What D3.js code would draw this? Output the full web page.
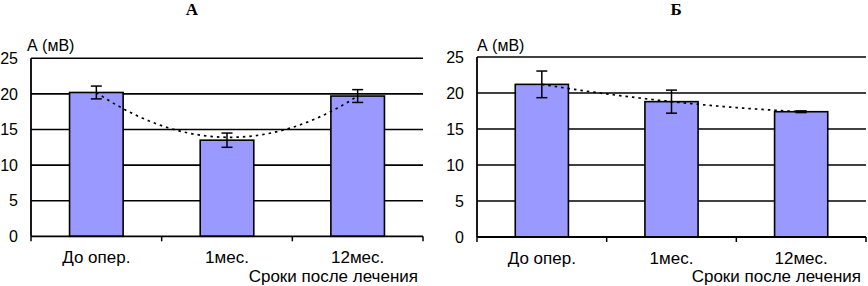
<!DOCTYPE html>
<html><head><meta charset="utf-8">
<script src="https://cdn.jsdelivr.net/npm/d3@7"></script>
<style>body{margin:0;background:#fff}svg{display:block}</style>
</head><body>
<svg id="c" width="868" height="286"></svg>
<script>
const categories = ["До опер.", "1мес.", "12мес."];
const yTicks = [0, 5, 10, 15, 20, 25];
const titles = ["А", "Б"];
const yLabel = "А (мВ)";
const xLabel = "Сроки после лечения";
const valuesA = [20.2, 13.5, 19.7];
const errorsA = [0.9, 1.0, 0.9];
const trendA = [20.2, 13.9, 19.7];
const valuesB = [21.2, 18.8, 17.4];
const errorsB = [1.85, 1.6, 0.12];
const trendB = [21.2, 18.8, 17.4];

const layouts = [
  {left: 31, right: 423, top: 58.3, bottom: 236.3, titleX: 192, labelX: 27},
  {left: 477, right: 866, top: 57, bottom: 237, titleX: 676, labelX: 477}
];
const panels = [
  {values: valuesA, errors: errorsA, trend: trendA},
  {values: valuesB, errors: errorsB, trend: trendB}
];

const svg = d3.select("#c");
svg.append("rect").attr("width", 868).attr("height", 286).attr("fill", "#fff");
const sans = "Arial, 'Liberation Sans', sans-serif";

panels.forEach((p, i) => {
  const L = layouts[i];
  const g = svg.append("g");
  const x = d3.scaleBand().domain(categories).range([L.left, L.right]).padding(0);
  const y = d3.scaleLinear().domain([0, 25]).range([L.bottom, L.top]);
  const bw = x.bandwidth() * 0.41;
  const cx = d => x(d) + x.bandwidth() / 2;

  g.selectAll("line.grid").data(yTicks.filter(t => t > 0)).join("line")
    .attr("x1", L.left).attr("x2", L.right)
    .attr("y1", d => y(d)).attr("y2", d => y(d))
    .attr("stroke", "#000").attr("stroke-width", 1.6);

  const ya = d3.axisLeft(y).tickValues(yTicks).tickSize(0).tickPadding(13);
  const yg = g.append("g").attr("transform", `translate(${L.left},0)`).call(ya);
  yg.select(".domain").remove();
  yg.selectAll("text").attr("font-family", sans).attr("font-size", 16).attr("fill", "#000");

  g.selectAll("rect.bar").data(categories).join("rect")
    .attr("x", d => cx(d) - bw / 2).attr("width", bw)
    .attr("y", (d, j) => y(p.values[j]))
    .attr("height", (d, j) => y(0) - y(p.values[j]))
    .attr("fill", "#9999FF").attr("stroke", "#000").attr("stroke-width", 1.6);

  g.append("line").attr("x1", L.left).attr("x2", L.left).attr("y1", L.top).attr("y2", L.bottom)
    .attr("stroke", "#000").attr("stroke-width", 1.8);
  const xa = d3.axisBottom(x).tickSize(0).tickPadding(15);
  const xg = g.append("g").attr("transform", `translate(0,${L.bottom})`).call(xa);
  xg.select(".domain").attr("stroke", "#000").attr("stroke-width", 1.8).attr("d", `M${L.left},0H${L.right}`);
  xg.selectAll("text").attr("font-family", sans).attr("font-size", 17).attr("fill", "#000").attr("dy", "0.71em");
  const bounds = categories.map(c => x(c)).concat([L.right]);
  g.selectAll("line.xt").data(bounds).join("line")
    .attr("x1", d => d).attr("x2", d => d)
    .attr("y1", L.bottom).attr("y2", L.bottom + 5)
    .attr("stroke", "#000").attr("stroke-width", 1.5);

  const eb = g.selectAll("g.err").data(categories).join("g");
  eb.append("line").attr("x1", d => cx(d)).attr("x2", d => cx(d))
    .attr("y1", (d, j) => y(p.values[j] + p.errors[j]))
    .attr("y2", (d, j) => y(p.values[j] - p.errors[j]))
    .attr("stroke", "#000").attr("stroke-width", 1.5);
  [1, -1].forEach(s => {
    eb.append("line").attr("x1", d => cx(d) - 5.5).attr("x2", d => cx(d) + 5.5)
      .attr("y1", (d, j) => y(p.values[j] + s * p.errors[j]))
      .attr("y2", (d, j) => y(p.values[j] + s * p.errors[j]))
      .attr("stroke", "#000").attr("stroke-width", 1.5);
  });

  const t = p.trend;
  const poly = u => t[0] * (u - 1) * (u - 2) / 2 - t[1] * u * (u - 2) + t[2] * u * (u - 1) / 2;
  const xi = d3.scaleLinear().domain([0, 2]).range([cx(categories[0]), cx(categories[2])]);
  const pts = d3.range(0, 2.0001, 0.05).map(u => [xi(u), y(poly(u))]);
  g.append("path").attr("d", d3.line()(pts)).attr("fill", "none")
    .attr("stroke", "#000").attr("stroke-width", 1.7).attr("stroke-dasharray", "2.5,4");

  g.append("text").attr("x", L.titleX).attr("y", 14.5).attr("text-anchor", "middle")
    .attr("font-family", "'Times New Roman', 'Liberation Serif', serif").attr("font-weight", "bold")
    .attr("font-size", 17).text(titles[i]);
  g.append("text").attr("x", L.labelX).attr("y", 51).attr("font-family", sans).attr("font-size", 16).text(yLabel);
  g.append("text").attr("x", L.right - 5).attr("y", 282).attr("text-anchor", "end")
    .attr("font-family", sans).attr("font-size", 17).text(xLabel);
});
</script>
</body></html>
